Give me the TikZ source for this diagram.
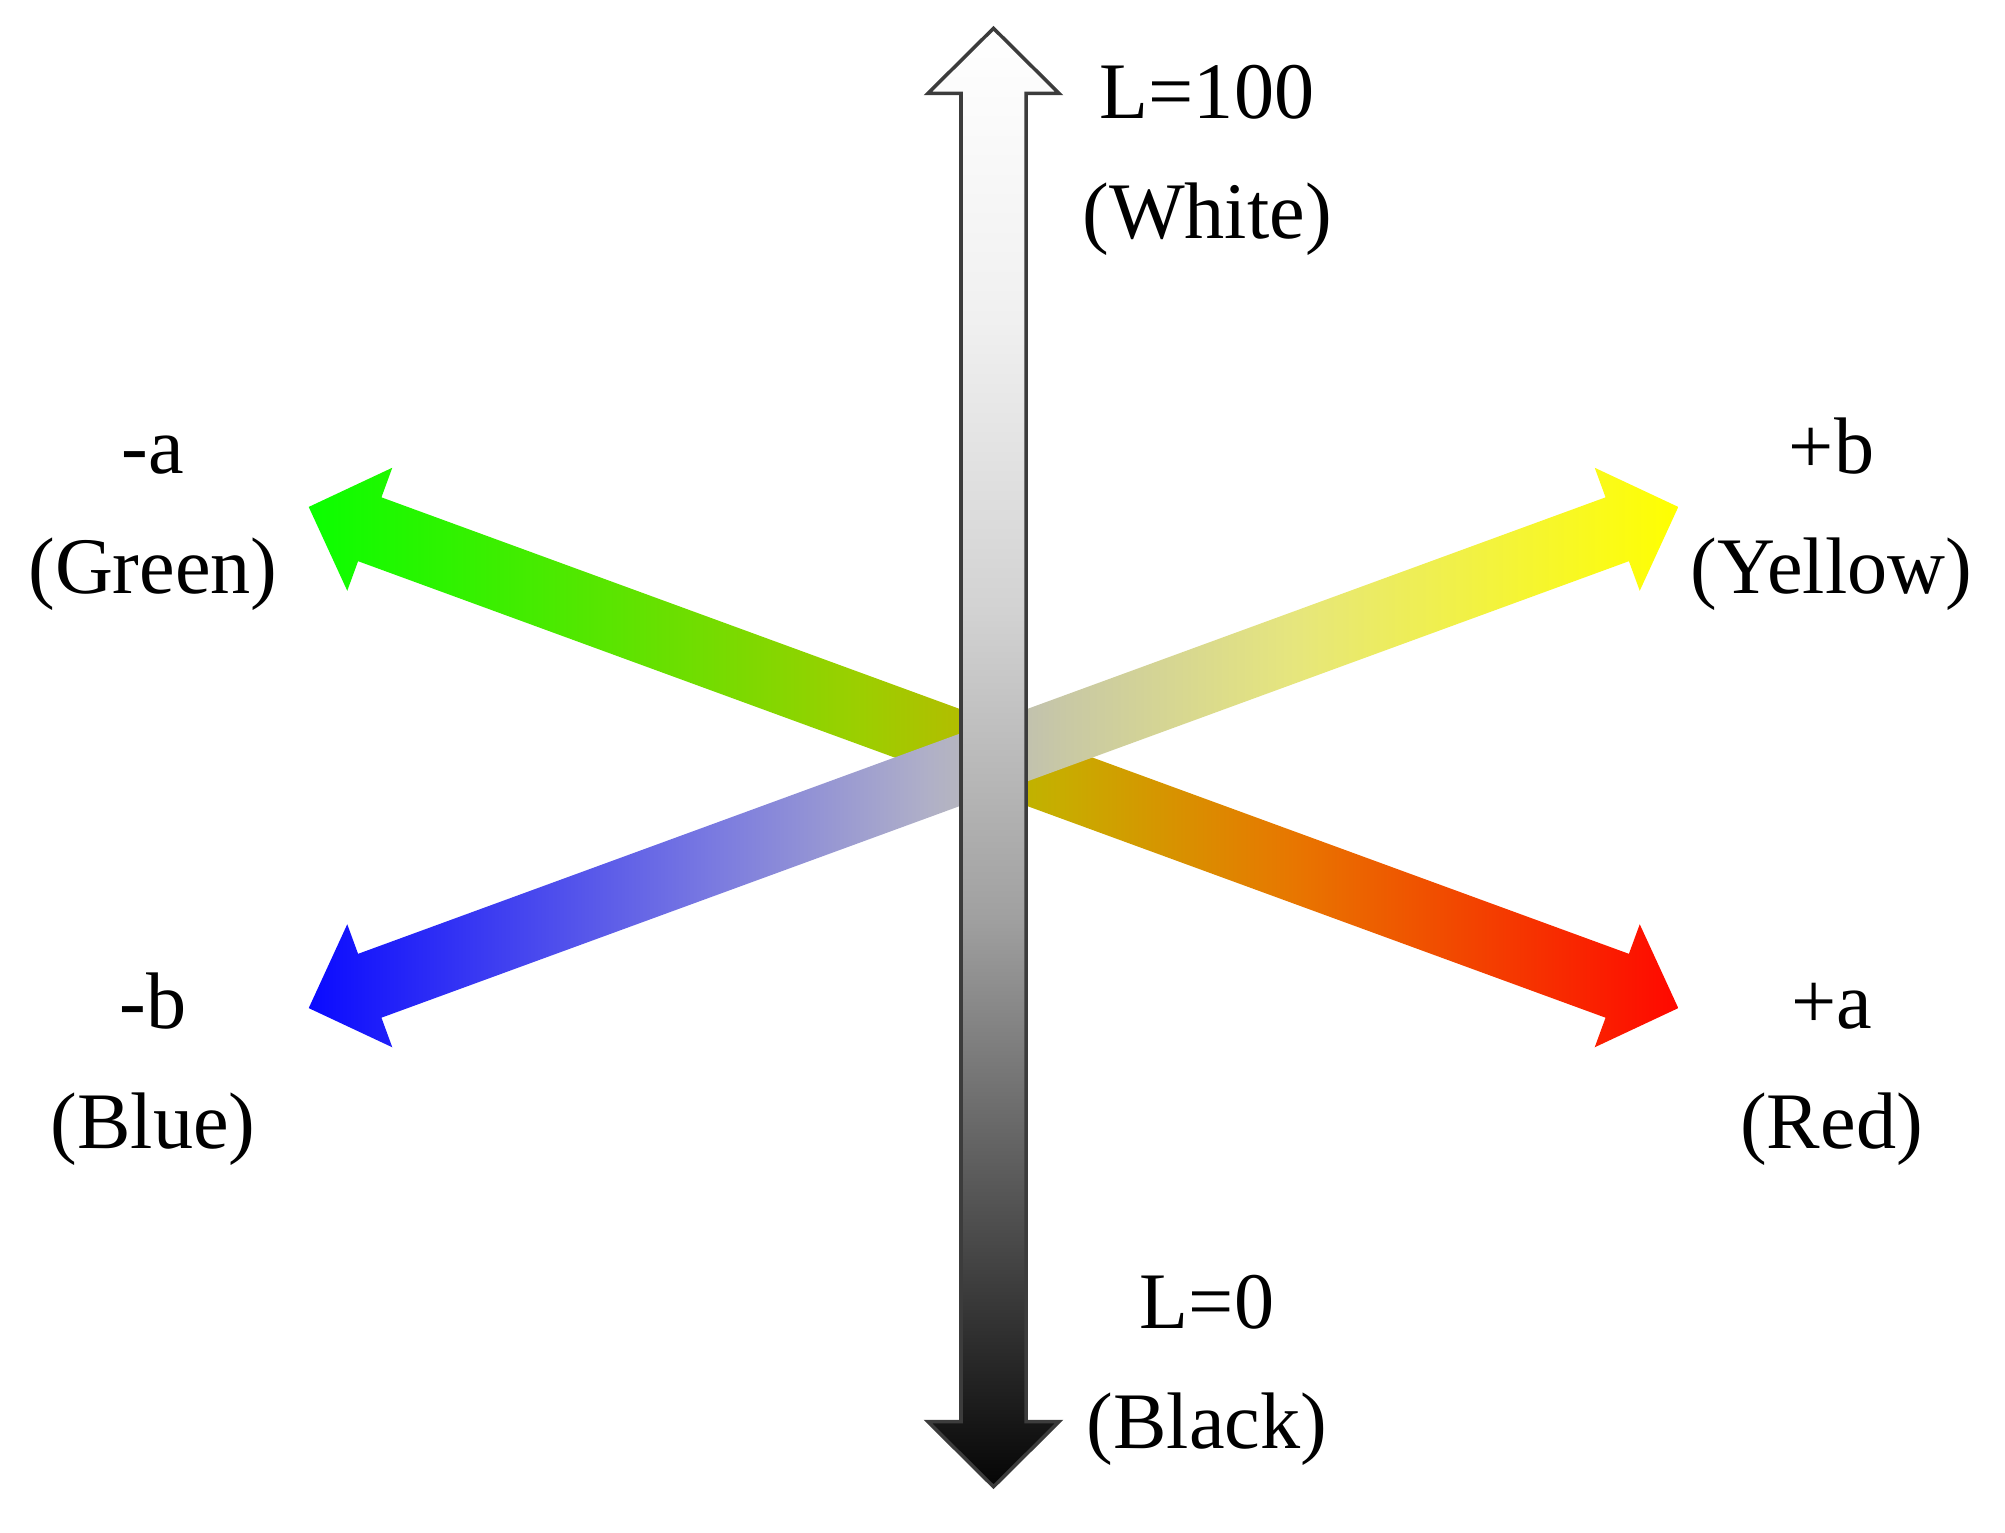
\documentclass[tikz,border=0pt]{standalone}
\usepackage{fontspec}
\setmainfont{Liberation Serif}
\usetikzlibrary{calc}

% colour stops
\definecolor{gr0}{RGB}{10,255,0}
\definecolor{gr1}{RGB}{155,207,0}
\definecolor{gr2}{RGB}{200,172,0}
\definecolor{gr3}{RGB}{232,118,0}
\definecolor{gr4}{RGB}{255,8,0}
\definecolor{by0}{RGB}{10,10,255}
\definecolor{by1}{RGB}{120,120,225}
\definecolor{by2}{RGB}{175,175,200}
\definecolor{by3}{RGB}{200,200,165}
\definecolor{by4}{RGB}{230,230,125}
\definecolor{by5}{RGB}{255,255,0}
\definecolor{lt0}{RGB}{255,255,255}
\definecolor{lt1}{RGB}{240,240,240}
\definecolor{lt2}{RGB}{210,210,210}
\definecolor{lt3}{RGB}{160,160,160}
\definecolor{lt4}{RGB}{70,70,70}
\definecolor{lt5}{RGB}{5,5,5}
\definecolor{rim}{RGB}{60,60,60}

\pgfdeclarehorizontalshading{greenred}{100bp}{color(0bp)=(gr0); color(25bp)=(gr0); color(45bp)=(gr1); color(52.5bp)=(gr2); color(61bp)=(gr3); color(75bp)=(gr4); color(100bp)=(gr4)}
\pgfdeclarehorizontalshading{blueyellow}{100bp}{color(0bp)=(by0); color(25bp)=(by0); color(39.5bp)=(by1); color(47.5bp)=(by2); color(52.5bp)=(by3); color(61bp)=(by4); color(75bp)=(by5); color(100bp)=(by5)}
\pgfdeclareverticalshading{lightness}{100bp}{color(0bp)=(lt5); color(25bp)=(lt5); color(33bp)=(lt4); color(44.5bp)=(lt3); color(55bp)=(lt2); color(65bp)=(lt1); color(75bp)=(lt0); color(100bp)=(lt0)}

% double block arrow through (ctr): #1 angle, #2 shaft half width, #3 options
\newcommand{\labarrow}[3]{%
  \path[#3] ($(ctr)+(#1:729.2)$)
    -- ($(ctr)+(#1:664.2)+(#1+90:65.5)$)
    -- ($(ctr)+(#1:664.2)+(#1+90:#2)$)
    -- ($(ctr)+(#1+180:664.2)+(#1+90:#2)$)
    -- ($(ctr)+(#1+180:664.2)+(#1+90:65.5)$)
    -- ($(ctr)+(#1+180:729.2)$)
    -- ($(ctr)+(#1+180:664.2)+(#1-90:65.5)$)
    -- ($(ctr)+(#1+180:664.2)+(#1-90:#2)$)
    -- ($(ctr)+(#1:664.2)+(#1-90:#2)$)
    -- ($(ctr)+(#1:664.2)+(#1-90:65.5)$)
    -- cycle;}

\begin{document}
\begin{tikzpicture}[x=0.01cm, y=-0.01cm,
    axlabel/.style={anchor=base, align=center, inner sep=0pt, outer sep=0pt,
      font=\fontsize{22.8}{34.1}\selectfont}]
    \useasboundingbox (0,0) rectangle (2005,1532);
    \coordinate (ctr) at (993.5,757.5);

    \foreach \ang/\shd in {20.1/greenred, -20.1/blueyellow}
        \labarrow{\ang}{34}{shade, shading=\shd};
    \labarrow{90}{32.5}{shade, shading=lightness, draw=rim, line width=1pt, line join=miter};

    % base = baseline of the second line
    \node[axlabel] (lWhite)  at (1207,238.3)   {L=100\\(White)};
    \node[axlabel] (lBlack)  at (1207,1448.3)  {L=0\\(Black)};
    \node[axlabel] (lGreen)  at (153,593.3)    {-a\\(Green)};
    \node[axlabel] (lBlue)   at (153,1148.3)   {-b\\(Blue)};
    \node[axlabel] (lYellow) at (1831.5,593.3) {+b\\(Yellow)};
    \node[axlabel] (lRed)    at (1831.5,1148.3) {+a\\(Red)};
\end{tikzpicture}
\end{document}
